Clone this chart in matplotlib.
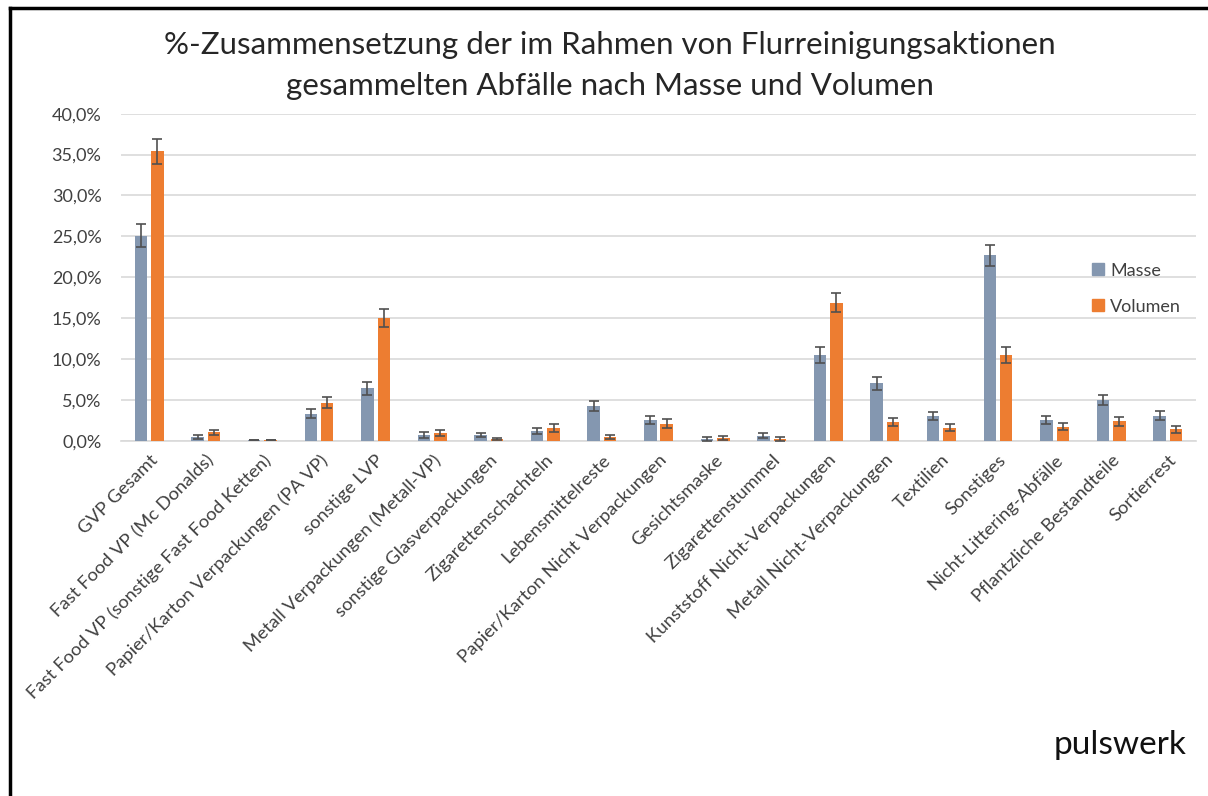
import matplotlib
matplotlib.use("Agg")
import matplotlib.pyplot as plt
import numpy as np
from matplotlib.ticker import FuncFormatter
from matplotlib.lines import Line2D

categories = [
    "GVP Gesamt", "Fast Food VP (Mc Donalds)", "Fast Food VP (sonstige Fast Food Ketten)",
    "Papier/Karton Verpackungen (PA VP)", "sonstige LVP", "Metall Verpackungen (Metall-VP)",
    "sonstige Glasverpackungen", "Zigarettenschachteln", "Lebensmittelreste",
    "Papier/Karton Nicht Verpackungen", "Gesichtsmaske", "Zigarettenstummel",
    "Kunststoff Nicht-Verpackungen", "Metall Nicht-Verpackungen", "Textilien",
    "Sonstiges", "Nicht-Littering-Abfälle", "Pflantzliche Bestandteile", "Sortierrest",
]
masse = [25.1, 0.4, 0.05, 3.3, 6.4, 0.7, 0.7, 1.15, 4.2, 2.5, 0.2, 0.6,
         10.5, 7.0, 3.0, 22.7, 2.5, 5.0, 3.05]
masse_err = [1.4, 0.25, 0.02, 0.55, 0.75, 0.35, 0.3, 0.35, 0.6, 0.5, 0.2, 0.3,
             1.0, 0.85, 0.5, 1.3, 0.5, 0.65, 0.55]
volumen = [35.4, 1.03, 0.05, 4.65, 15.0, 0.98, 0.17, 1.6, 0.5, 2.1, 0.33, 0.25,
           16.9, 2.25, 1.6, 10.5, 1.7, 2.4, 1.4]
volumen_err = [1.5, 0.3, 0.02, 0.7, 1.15, 0.35, 0.1, 0.5, 0.25, 0.5, 0.25, 0.25,
               1.2, 0.5, 0.45, 0.95, 0.45, 0.55, 0.45]

c_masse = "#8497b0"
c_vol = "#ed7d31"
font = "Lato"

fig = plt.figure(figsize=(12.08, 7.96), dpi=100)
W, H = 1208, 796
ax = fig.add_axes([121 / W, 1 - 440.7 / H, (1196 - 121) / W, (440.7 - 113.7) / H])

x = np.arange(len(categories))
bw = 0.22
gap = 0.07
ekw = dict(ecolor="#505050", elinewidth=1.2, capsize=3.5, capthick=1.2)
ax.bar(x - (bw + gap) / 2, masse, bw, color=c_masse, yerr=masse_err, error_kw=ekw, zorder=3, label="Masse")
ax.bar(x + (bw + gap) / 2, volumen, bw, color=c_vol, yerr=volumen_err, error_kw=ekw, zorder=3, label="Volumen")

ax.set_xlim(-0.5, len(categories) - 0.5)
ax.set_ylim(0, 40)
ax.set_yticks(np.arange(0, 40.1, 5))
ax.yaxis.set_major_formatter(FuncFormatter(lambda v, p: f"{v:.1f}%".replace(".", ",")))
ax.grid(axis="y", color="#d9d9d9", linewidth=1.2, zorder=0)
for s in ["top", "right", "left"]:
    ax.spines[s].set_visible(False)
ax.spines["bottom"].set_color("#d9d9d9")
ax.spines["bottom"].set_linewidth(1.2)
ax.tick_params(axis="y", length=0, labelsize=13, colors="#404040", pad=14)
for lab in ax.get_yticklabels():
    lab.set_fontfamily(font)
ax.set_xticks(x)
ax.set_xticklabels(categories, rotation=45, ha="right", rotation_mode="anchor",
                   fontsize=13.3, fontfamily=font, color="#404040")
ax.tick_params(axis="x", length=0, pad=8)

handles = [Line2D([], [], marker="s", linestyle="none", markersize=9, color=c_masse),
           Line2D([], [], marker="s", linestyle="none", markersize=9, color=c_vol)]
ax.legend(handles, ["Masse", "Volumen"], loc="center left", bbox_to_anchor=(0.885, 0.465),
          frameon=False, prop={"family": font, "size": 13}, labelspacing=1.1,
          handletextpad=0.2, handlelength=1.0, labelcolor="#404040")

fig.text(0.505, 1 - 45 / H, "%-Zusammensetzung der im Rahmen von Flurreinigungsaktionen",
         ha="center", va="center", fontsize=22.5, fontfamily=font, color="#262626")
fig.text(0.505, 1 - 86 / H, "gesammelten Abfälle nach Masse und Volumen",
         ha="center", va="center", fontsize=22.5, fontfamily=font, color="#262626")

fig.text(1187 / W, 1 - 745 / H, "pulswerk", ha="right", va="center", fontsize=24,
         fontfamily=font, color="#111111")

# frame lines (top and left)
fig.add_artist(Line2D([10 / W, 10 / W], [0, 1 - 8 / H], color="black", linewidth=2.5, transform=fig.transFigure))
fig.add_artist(Line2D([10 / W, 1], [1 - 8 / H, 1 - 8 / H], color="black", linewidth=2.5, transform=fig.transFigure))

fig.savefig("out.png", dpi=100, facecolor="white")
